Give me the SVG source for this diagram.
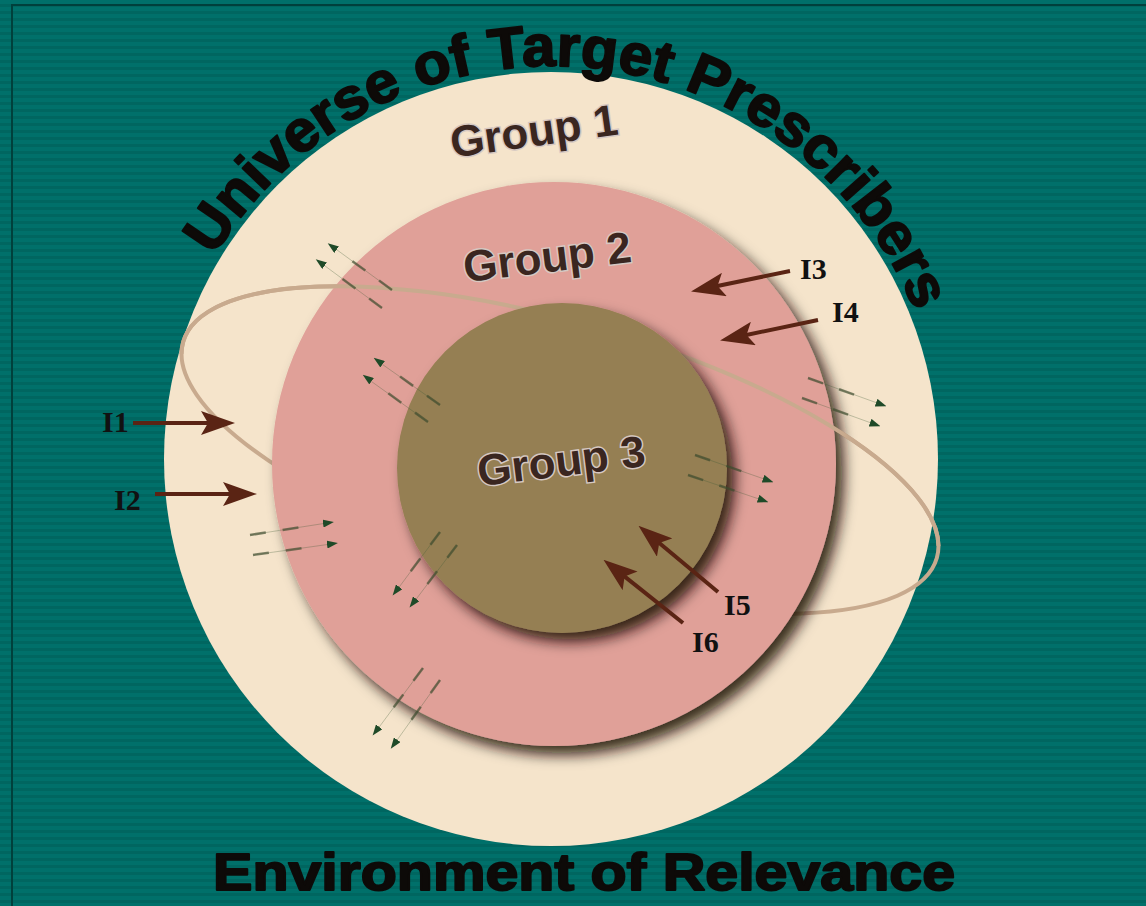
<svg xmlns="http://www.w3.org/2000/svg" width="1146" height="906" viewBox="0 0 1146 906">
  <style>
    .title { font-family: "Liberation Sans", Arial, sans-serif; font-weight: bold; fill: #0d0a08; stroke: #0d0a08; stroke-width: 2; stroke-linejoin: round; }
    .glabel { font-family: "Liberation Sans", Arial, sans-serif; font-weight: bold; font-size: 44px; fill: #3a2620; stroke: #d6c8c2; stroke-width: 3; paint-order: stroke; }
    .ilabel { font-family: "Liberation Serif", "Times New Roman", serif; font-weight: bold; font-size: 30px; fill: #111; }
    .inflow { stroke: #5a2414; stroke-width: 4; fill: none; marker-end: url(#brownHead); }
    .flow-faint { stroke: #3c5a34; stroke-width: 1; opacity: 0.3; fill: none; }
    .flow { stroke: #3c4a2c; stroke-opacity: 0.65; stroke-width: 2.5; fill: none; stroke-dasharray: 16 17 16 80; marker-end: url(#greenHead); }
    .orbit { fill: none; stroke: #c8aa8e; stroke-width: 4; }
  </style>
  <defs>
    <pattern id="stripes" width="8" height="7" patternUnits="userSpaceOnUse">
      <rect width="8" height="7" fill="#00706a"/>
      <rect y="4" width="8" height="3" fill="#006660"/>
    </pattern>
    <filter id="shadow" x="-20%" y="-20%" width="150%" height="150%">
      <feGaussianBlur in="SourceAlpha" stdDeviation="7"/>
      <feOffset dx="8" dy="9" result="b"/>
      <feFlood flood-color="#1a0c06" flood-opacity="0.85"/>
      <feComposite in2="b" operator="in"/>
      <feMerge><feMergeNode/><feMergeNode in="SourceGraphic"/></feMerge>
    </filter>
    <marker id="brownHead" markerUnits="userSpaceOnUse" viewBox="0 0 34 24" markerWidth="34" markerHeight="24" refX="12" refY="12" orient="auto">
      <path d="M0,0 L34,12 L0,24 L7,12 Z" fill="#5a2414"/>
    </marker>
    <marker id="greenHead" markerUnits="userSpaceOnUse" viewBox="0 0 11 8" markerWidth="11" markerHeight="8" refX="2" refY="4" orient="auto">
      <path d="M0,0 L11,4 L0,8 Z" fill="#1f4a28"/>
    </marker>
    <path id="titleArc" d="M214,256.6 A393,393 0 0 1 915.4,311.8"/>
  </defs>

  <!-- backdrop and frame -->
  <rect width="1146" height="906" fill="url(#stripes)"/>
  <path d="M12,906 V5 H1146" fill="none" stroke="#00403c" stroke-width="2"/>

  <!-- outer ring: the whole universe -->
  <g id="group1">
    <circle cx="551" cy="459" r="387" fill="#f5e4cb"/>
    <text class="glabel" x="536" y="146" text-anchor="middle" transform="rotate(-8 536 146)">Group 1</text>
  </g>

  <!-- orbit, rear half (hidden by inner discs) -->
  <ellipse class="orbit" cx="560" cy="450" rx="392" ry="128" transform="rotate(16 560 450)"/>

  <g id="group2">
    <circle cx="554" cy="464" r="282" fill="#e0a098" filter="url(#shadow)"/>
    <text class="glabel" x="549" y="272" text-anchor="middle" transform="rotate(-7 549 272)">Group 2</text>
  </g>

  <!-- orbit, front half -->
  <path class="orbit" d="M181.5,353.9 A392,128 16 0 1 938.5,546.1"/>

  <g id="group3">
    <circle cx="562" cy="468" r="165" fill="#957f53" filter="url(#shadow)"/>
    <text class="glabel" x="563" y="476" text-anchor="middle" transform="rotate(-7 563 476)">Group 3</text>
  </g>

  <!-- movement between groups -->
  <g id="flows">
    <path class="flow-faint" d="M392,290 L333,247 M382,308 L321,263 M440,405 L379,362 M428,422 L368,379 M250,535 L327,523 M253,555 L331,544 M440,532 L397,590 M457,545 L414,602 M423,668 L377,730 M440,680 L395,743 M695,455 L767,480 M688,475 L762,500 M808,378 L880,404 M802,398 L874,424"/>
    <path class="flow" d="M392,290 L335,248.5"/>
    <path class="flow" d="M382,308 L323,264.5"/>
    <path class="flow" d="M440,405 L381,363"/>
    <path class="flow" d="M428,422 L370,380"/>
    <path class="flow" d="M250,535 L325,523.3"/>
    <path class="flow" d="M253,555 L329,544.3"/>
    <path class="flow" d="M440,532 L398,588.4"/>
    <path class="flow" d="M457,545 L415,600.4"/>
    <path class="flow" d="M423,668 L378,728.4"/>
    <path class="flow" d="M440,680 L396,741.4"/>
    <path class="flow" d="M695,455 L765,479.3"/>
    <path class="flow" d="M688,475 L760,499.3"/>
    <path class="flow" d="M808,378 L878,403.3"/>
    <path class="flow" d="M802,398 L872,423.3"/>
  </g>

  <!-- inputs I1..I6 -->
  <g id="inputs">
    <path class="inflow" d="M133,423 L213,423"/>
    <path class="inflow" d="M155,494 L235,494"/>
    <path class="inflow" d="M790,271 L712.6,287"/>
    <path class="inflow" d="M818,320 L741.6,336"/>
    <path class="inflow" d="M718,592 L655.4,539.8"/>
    <path class="inflow" d="M683,623 L620.7,573.4"/>
    <text class="ilabel" x="102" y="432">I1</text>
    <text class="ilabel" x="114" y="510">I2</text>
    <text class="ilabel" x="800" y="279">I3</text>
    <text class="ilabel" x="832" y="322">I4</text>
    <text class="ilabel" x="724" y="615">I5</text>
    <text class="ilabel" x="692" y="652">I6</text>
  </g>

  <!-- titles -->
  <text class="title" font-size="58"><textPath href="#titleArc" textLength="871" lengthAdjust="spacingAndGlyphs">Universe of Target Prescribers</textPath></text>
  <text class="title" font-size="52" x="213" y="890" textLength="742" lengthAdjust="spacingAndGlyphs">Environment of Relevance</text>
</svg>
